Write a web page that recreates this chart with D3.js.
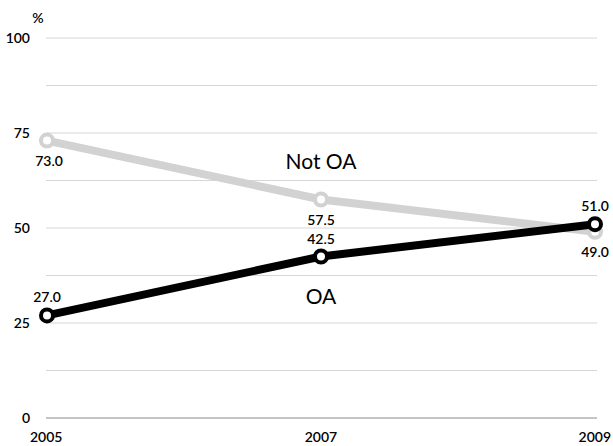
<!DOCTYPE html>
<html>
<head>
<meta charset="utf-8">
<title>OA vs Not OA</title>
<script src="https://d3js.org/d3.v7.min.js"></script>
<style>
  body { margin: 0; background: #fff; }
  svg { display: block; font-family: "Lato", "Open Sans", sans-serif; }
  .grid line { stroke: #d6d6d6; stroke-width: 1; }
  .tick-label { font-size: 14px; fill: #000; font-weight: 600; }
</style>
</head>
<body>
<svg id="chart" width="613" height="446"></svg>
<script>
// data
const years = ['2005', '2007', '2009'];
const notOA = [73.0, 57.5, 49.0];
const oa = [27.0, 42.5, 51.0];
const yTicks = [0, 25, 50, 75, 100];
const gridLevels = [0, 12.5, 25, 37.5, 50, 62.5, 75, 87.5, 100];

const svg = d3.select('#chart');

const x = d3.scalePoint()
    .domain(years)
    .range([47, 595]);
const y = d3.scaleLinear()
    .domain([0, 100])
    .range([418, 38]);

// gridlines
svg.append('g')
    .attr('class', 'grid')
    .selectAll('line')
    .data(gridLevels)
    .join('line')
    .attr('x1', 46)
    .attr('x2', 597)
    .attr('y1', d => y(d))
    .attr('y2', d => y(d))
    .style('stroke', d => d === 0 ? '#8a8a8a' : null);

// y tick labels
svg.append('g')
    .selectAll('text')
    .data(yTicks)
    .join('text')
    .attr('class', 'tick-label')
    .attr('x', 30)
    .attr('y', d => y(d) + 5)
    .attr('text-anchor', 'end')
    .text(d => d);

svg.append('text')
    .attr('class', 'tick-label')
    .attr('x', 38)
    .attr('y', 23)
    .attr('text-anchor', 'middle')
    .text('%');

// x labels
svg.append('g')
    .selectAll('text')
    .data(years)
    .join('text')
    .attr('class', 'tick-label')
    .attr('x', (d, i) => i === 0 ? 30 : i === years.length - 1 ? 611 : x(d))
    .attr('y', 442)
    .attr('text-anchor', (d, i) => i === 0 ? 'start' : i === years.length - 1 ? 'end' : 'middle')
    .text(d => d);

const line = d3.line()
    .x((d, i) => x(years[i]))
    .y(d => y(d));

function drawSeries(values, color) {
    svg.append('path')
        .datum(values)
        .attr('d', line)
        .attr('fill', 'none')
        .attr('stroke', color)
        .attr('stroke-width', 8)
        .attr('stroke-linejoin', 'round');
    svg.append('g')
        .selectAll('circle')
        .data(values)
        .join('circle')
        .attr('cx', (d, i) => x(years[i]))
        .attr('cy', d => y(d))
        .attr('r', 6)
        .attr('fill', '#fff')
        .attr('stroke', color)
        .attr('stroke-width', 4);
}

drawSeries(notOA, '#d2d2d2');
drawSeries(oa, '#000');

// value labels: Not OA below, OA above
svg.append('g')
    .selectAll('text')
    .data(notOA)
    .join('text')
    .attr('class', 'tick-label')
    .attr('x', (d, i) => x(years[i]) + (i === 0 ? 2 : 0))
    .attr('y', d => y(d) + 25)
    .attr('text-anchor', 'middle')
    .text(d => d.toFixed(1));

svg.append('g')
    .selectAll('text')
    .data(oa)
    .join('text')
    .attr('class', 'tick-label')
    .attr('x', (d, i) => x(years[i]))
    .attr('y', d => y(d) - 13)
    .attr('text-anchor', 'middle')
    .text(d => d.toFixed(1));

// series labels
svg.append('text')
    .attr('x', x('2007'))
    .attr('y', 169)
    .attr('text-anchor', 'middle')
    .style('font-size', '21px')
    .text('Not OA');
svg.append('text')
    .attr('x', x('2007'))
    .attr('y', 304)
    .attr('text-anchor', 'middle')
    .style('font-size', '21px')
    .text('OA');
</script>
</body>
</html>
